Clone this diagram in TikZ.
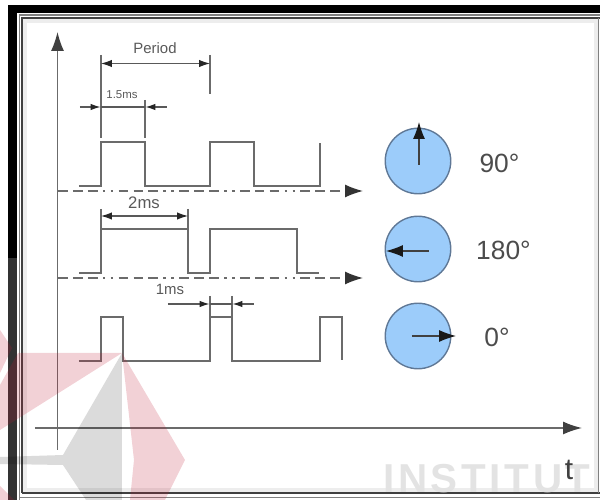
\documentclass[tikz,border=0pt]{standalone}
\usepackage{fontspec}
\setmainfont{Liberation Sans}
\usetikzlibrary{arrows.meta}
\definecolor{linegray}{gray}{0.42}
\definecolor{wmred}{rgb}{0.75,0.1,0.2}
\definecolor{discblue}{RGB}{156,204,250}
\definecolor{discedge}{RGB}{95,120,150}
\tikzset{
  axis/.style={thick,linegray,-{Latex[length=0.38cm,width=0.26cm,black!75]}},
  signal/.style={thick,linegray,line join=miter},
  dashaxis/.style={thick,linegray,dash pattern=on 5.5pt off 3pt on 5.5pt off 3pt on 5.5pt off 3pt on 1.5pt off 3pt on 1.5pt off 3pt,-{Latex[length=0.36cm,width=0.26cm,black!80]}},
  dim/.style={semithick,black!65,{Latex[length=0.22cm,width=0.15cm,black!85]}-{Latex[length=0.22cm,width=0.15cm,black!85]}},
  dimin/.style={semithick,black!65,-{Latex[length=0.2cm,width=0.13cm,black!85]}},
  tick/.style={thick,linegray},
  servo/.style={circle,draw=discedge,thick,fill=discblue,minimum size=1.31cm,inner sep=0pt},
  needle/.style={semithick,black!75,-{Latex[length=0.34cm,width=0.24cm,black!90]}},
  angle/.style={text=black!70,font=\fontsize{15}{15}\selectfont},
  dimtext/.style={text=black!65,inner sep=0pt},
  wm/.style={fill=wmred,opacity=0.2},
  wmg/.style={fill=black,opacity=0.14}
}
\begin{document}
\begin{tikzpicture}[x=0.02cm,y=-0.02cm]
\useasboundingbox (0,0) rectangle (600,500);
% frame
\fill[black] (8,5) rectangle (600,13);
\fill[black] (8,5) rectangle (17,258);
\fill[black!80] (8,258) rectangle (17,500);
\draw[gray,thick] (19.5,500) -- (19.5,15) -- (600,15);
\draw[black!75,thick] (22,493) -- (22,18) -- (600,18);
\draw[black!75,thick] (22,493) -- (600,493);
\draw[gray] (19.5,497.5) -- (600,497.5);
\draw[gray,thick] (598.5,18) -- (598.5,493);
\draw[black!7,line width=2pt] (25,490) -- (25,21) -- (596,21) -- (596,490) -- cycle;
% axes
\draw[axis] (57.5,450) -- (57.5,32);
\draw[axis] (35,428) -- (582,428);
% period
\node[dimtext,font=\fontsize{8.5}{9}\selectfont] (period) at (155,48) {Period};
\draw[tick] (101,55) -- (101,138);
\draw[tick] (210,55) -- (210,94);
\draw[dim] (101,63.5) -- (210,63.5);
\node[dimtext,font=\fontsize{6.5}{7}\selectfont] (onefive) at (122,95) {1.5ms};
\draw[tick] (145,100) -- (145,138);
\draw[dimin] (80,107) -- (100.5,107);
\draw[dimin] (167,107) -- (145.5,107);
\draw[semithick,black!65] (101,107) -- (145,107);
% 90
\draw[signal] (79,186) -- (101,186) -- (101,142) -- (145,142) -- (145,186) -- (210,186) -- (210,142) -- (254,142) -- (254,186) -- (320,186) -- (320,143);
\draw[dashaxis] (58,191) -- (363,191);
% 180
\node[dimtext,font=\fontsize{9.5}{10}\selectfont] (twoms) at (144,203) {2ms};
\draw[tick] (101,209) -- (101,229);
\draw[tick] (188,209) -- (188,229);
\draw[dim] (101,216) -- (188,216);
\draw[signal] (79,273) -- (101,273) -- (101,229) -- (188,229) -- (188,273) -- (210,273) -- (210,229) -- (297,229) -- (297,273) -- (319,273);
\draw[dashaxis] (58,278) -- (363,278);
% 0
\node[dimtext,font=\fontsize{8.5}{9}\selectfont] (onems) at (170,289) {1ms};
\draw[tick] (210,296) -- (210,317);
\draw[tick] (232,296) -- (232,317);
\draw[dimin] (168,304) -- (209.5,304);
\draw[dimin] (254,304) -- (232.5,304);
\draw[semithick,black!65] (210,304) -- (232,304);
\draw[signal] (79,361) -- (101,361) -- (101,317) -- (123,317) -- (123,361) -- (210,361) -- (210,317) -- (232,317) -- (232,361) -- (320,361) -- (320,317) -- (342,317) -- (342,360);
% servo discs
\node[servo] (disca) at (418,161) {};
\node[servo] (discb) at (418,249) {};
\node[servo] (discc) at (418,336) {};
\draw[needle] (419,165) -- (419,122);
\draw[needle] (429,251) -- (386,251);
\draw[needle] (412,336) -- (456,336);
\node[angle] (anglea) at (499.5,163) {90°};
\node[angle] (angleb) at (503.5,250) {180°};
\node[angle] (anglec) at (497,337) {0°};
% watermark
\fill[wm] (122,353) -- (18,353) -- (0,385) -- (0,430) -- cycle;
\fill[wm] (0,330) -- (12,348) -- (0,373) -- cycle;
\fill[wm] (122,353) -- (185,460) -- (165,500) -- (130,500) -- (134,460) -- cycle;
\fill[wm] (0,486) -- (14,500) -- (0,500) -- cycle;
\fill[wmg] (122,353) -- (122,500) -- (86,500) -- (63,465) -- (0,464) -- (0,457) -- (63,455) -- cycle;
\node[anchor=base west,inner sep=0pt,text=black!11,font=\fontsize{23}{23}\bfseries\selectfont\addfontfeature{LetterSpace=9}] (wmtext) at (383,493) {INSTITUT};
\node[text=black!75,font=\fontsize{17}{17}\selectfont] (tlabel) at (569,470) {t};
\end{tikzpicture}
\end{document}
